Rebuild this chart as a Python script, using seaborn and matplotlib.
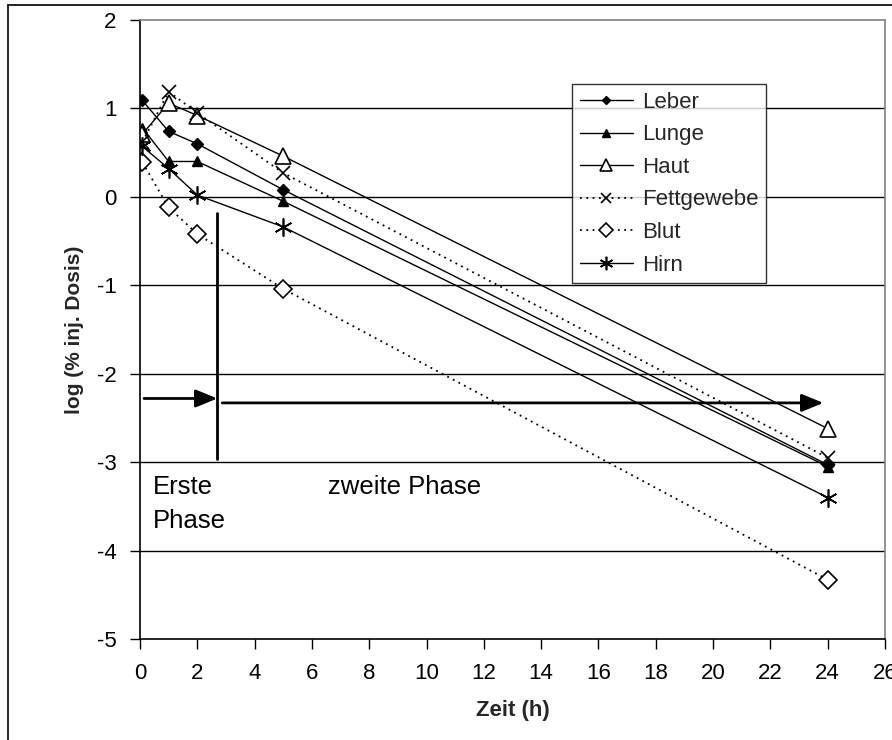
import matplotlib
matplotlib.use("Agg")
import matplotlib.pyplot as plt
import seaborn as sns
import pandas as pd
from matplotlib.lines import Line2D

# ---- data ----
zeit = [0.083, 1, 2, 5, 24]
leber = [1.09, 0.74, 0.60, 0.08, -3.03]
lunge = [0.78, 0.40, 0.40, -0.05, -3.05]
haut = [0.71, 1.06, 0.92, 0.46, -2.62]
fettgewebe = [0.62, 1.19, 0.95, 0.27, -2.95]
blut = [0.39, -0.12, -0.42, -1.04, -4.33]
hirn = [0.57, 0.32, 0.02, -0.34, -3.40]

series_names = ["Leber", "Lunge", "Haut", "Fettgewebe", "Blut", "Hirn"]
series_vals = [leber, lunge, haut, fettgewebe, blut, hirn]

x_ticks = list(range(0, 27, 2))
y_ticks = list(range(-5, 3))

sns.set_theme(style="white")
plt.rcParams["font.family"] = ["Liberation Sans", "DejaVu Sans"]

fig = plt.figure(figsize=(8.92, 7.40), dpi=100)
ax = fig.add_axes([140/892, 1-639/740, (885-140)/892, (639-20)/740])

dotted = (0, (1, 2.5))
styles = {
    "Leber": dict(marker="D", ms=6, mfc="black", mec="black", ls="-", lw=1.0),
    "Lunge": dict(marker="^", ms=7, mfc="black", mec="black", ls="-", lw=1.0),
    "Haut": dict(marker="^", ms=12, mfc="white", mec="black", ls="-", mew=1.2, lw=1.0),
    "Fettgewebe": dict(marker="x", ms=10, mfc="black", mec="black", ls=dotted, mew=1.2, lw=1.3),
    "Blut": dict(marker="D", ms=9, mfc="white", mec="black", ls=dotted, mew=1.2, lw=1.3),
    "Hirn": dict(marker=(6, 2, 0), ms=13, mfc="black", mec="black", ls="-", mew=1.2, lw=1.0),
}

for name, vals in zip(series_names, series_vals):
    df = pd.DataFrame({"Zeit": zeit, "val": vals})
    st = styles[name]
    sns.lineplot(data=df, x="Zeit", y="val", ax=ax, color="black", lw=st["lw"],
                 linestyle=st["ls"], marker=st["marker"], markersize=st["ms"],
                 markerfacecolor=st["mfc"], markeredgecolor=st["mec"],
                 markeredgewidth=st.get("mew", 1.0), label=name)

ax.set_xlim(0, 26)
ax.set_ylim(-5, 2)
ax.set_xticks(x_ticks)
ax.set_yticks(y_ticks)
ax.set_xticklabels([str(t) for t in x_ticks])
ax.set_yticklabels([str(t) for t in y_ticks])
ax.grid(False)
for yv in y_ticks[1:-1]:
    ax.axhline(yv, color="black", lw=1.0, zorder=0)

for s in ["left", "bottom"]:
    ax.spines[s].set_color("black")
    ax.spines[s].set_linewidth(1.2)
for s in ["top", "right"]:
    ax.spines[s].set_color("#808080")
    ax.spines[s].set_linewidth(1.2)

ax.tick_params(axis="both", which="major", direction="out", length=7, width=1,
               color="black", labelsize=16, labelcolor="black", bottom=True, left=True, pad=10)

ax.set_xlabel("Zeit (h)", fontsize=16, fontweight="bold", labelpad=12)
ax.set_ylabel("log (% inj. Dosis)", fontsize=15, fontweight="bold", labelpad=9)

# phase annotation
ax.plot([2.7, 2.7], [-0.18, -2.96], color="black", lw=2.0)
ax.annotate("", xy=(2.7, -2.28), xytext=(0.14, -2.28),
            arrowprops=dict(arrowstyle="-|>,head_length=1.1,head_width=0.45", color="black", lw=2.0, shrinkA=0, shrinkB=0))
ax.annotate("", xy=(23.85, -2.33), xytext=(2.87, -2.33),
            arrowprops=dict(arrowstyle="-|>,head_length=1.1,head_width=0.45", color="black", lw=2.0, shrinkA=0, shrinkB=0))
ax.text(0.45, -3.28, "Erste", fontsize=18.5, va="center", ha="left", color="black")
ax.text(0.45, -3.67, "Phase", fontsize=18.5, va="center", ha="left", color="black")
ax.text(6.56, -3.28, "zweite Phase", fontsize=18.5, va="center", ha="left", color="black")

leg = ax.legend(loc="upper left", bbox_to_anchor=(572/892, 1-84/740), bbox_transform=fig.transFigure,
                borderaxespad=0, frameon=True, fancybox=False, fontsize=16, handlelength=2.4,
                labelspacing=0.52, handletextpad=0.4, borderpad=0.35)
leg.get_frame().set_edgecolor("black")
leg.get_frame().set_linewidth(1.0)
for h in leg.legend_handles:
    h.set_markersize(h.get_markersize() * 0.75)

# figure border lines
fig.add_artist(Line2D([8/892, 8/892], [0, 1-5/740], transform=fig.transFigure, color="black", lw=1.2))
fig.add_artist(Line2D([8/892, 1], [1-5/740, 1-5/740], transform=fig.transFigure, color="black", lw=1.2))

fig.savefig("out.png", dpi=100, facecolor="white")
